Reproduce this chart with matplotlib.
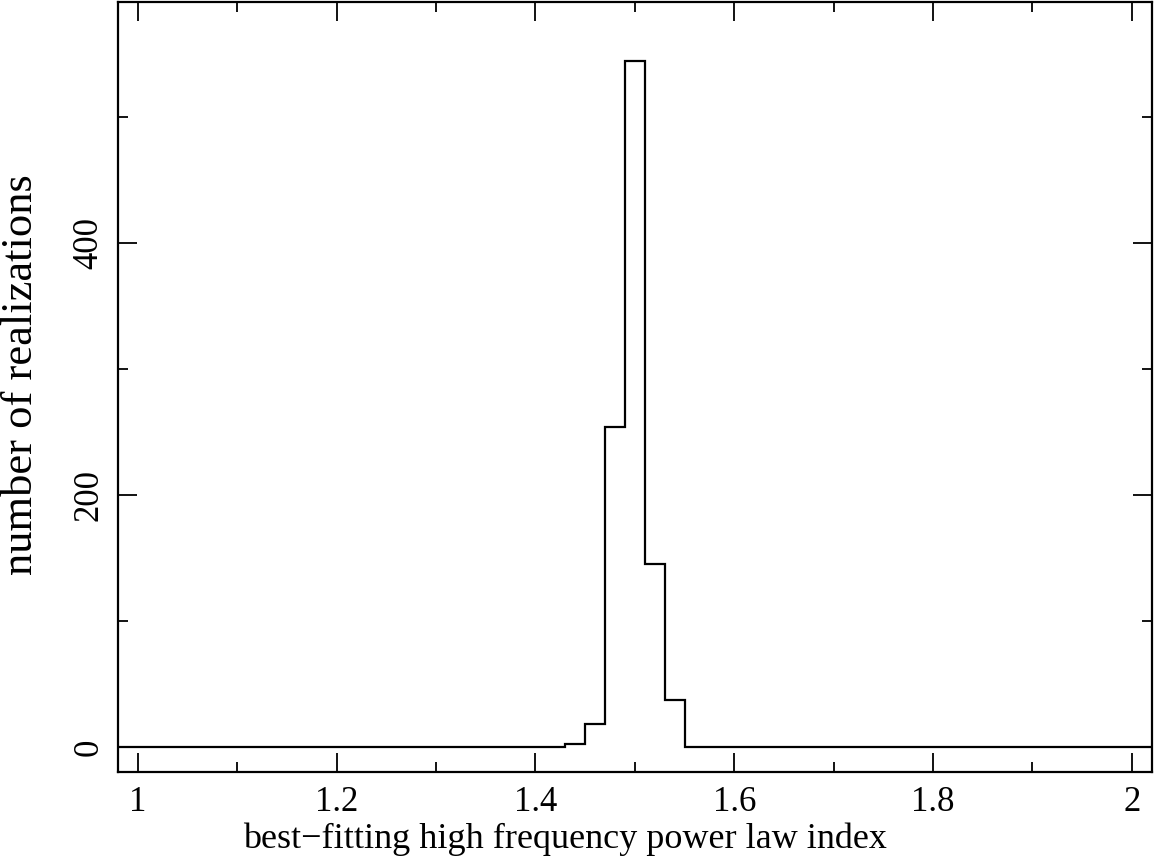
import numpy as np
import matplotlib
matplotlib.use("Agg")
import matplotlib.pyplot as plt
from matplotlib.ticker import MultipleLocator

plt.rcParams['font.family'] = ['Liberation Serif', 'DejaVu Serif']

# histogram: bin edges (width 0.02, centred on even hundredths) and counts
bin_edges = np.round(np.arange(0.97, 2.0301, 0.02), 2)
counts = np.zeros(len(bin_edges) - 1)
peak_left = [1.43, 1.45, 1.47, 1.49, 1.51, 1.53]
peak_counts = [2, 18, 254, 544, 145, 37]
for x0, c in zip(peak_left, peak_counts):
    counts[np.argmin(np.abs(bin_edges[:-1] - x0))] = c

fig = plt.figure(figsize=(11.54, 8.6), dpi=100)
ax = fig.add_axes([0.1023, 0.1023, 0.8957, 0.8954])

ax.stairs(counts, bin_edges, color='black', linewidth=1.6)

ax.set_xlim(0.98, 2.02)
ax.set_ylim(-20, 591)
ax.xaxis.set_major_locator(MultipleLocator(0.2))
ax.xaxis.set_minor_locator(MultipleLocator(0.1))
ax.yaxis.set_major_locator(MultipleLocator(200))
ax.yaxis.set_minor_locator(MultipleLocator(100))
ax.xaxis.set_major_formatter(plt.FuncFormatter(lambda v, p: f"{v:g}"))

ax.tick_params(which='both', direction='in', top=True, right=True, width=1.3, labelsize=25)
ax.tick_params(which='major', length=14)
ax.tick_params(which='minor', length=7)
ax.tick_params(axis='x', pad=10)
ax.tick_params(axis='y', pad=9)
for lab in ax.get_yticklabels():
    lab.set_rotation(90)
    lab.set_va('center')
for s in ax.spines.values():
    s.set_linewidth(1.6)

ax.set_xlabel("best\u2212fitting high frequency power law index", fontsize=26)
ax.xaxis.set_label_coords(0.432, -0.066)
ax.set_ylabel("number of realizations", fontsize=32)
ax.yaxis.set_label_coords(-0.075, 0.516)

fig.savefig("out.png", dpi=100)
